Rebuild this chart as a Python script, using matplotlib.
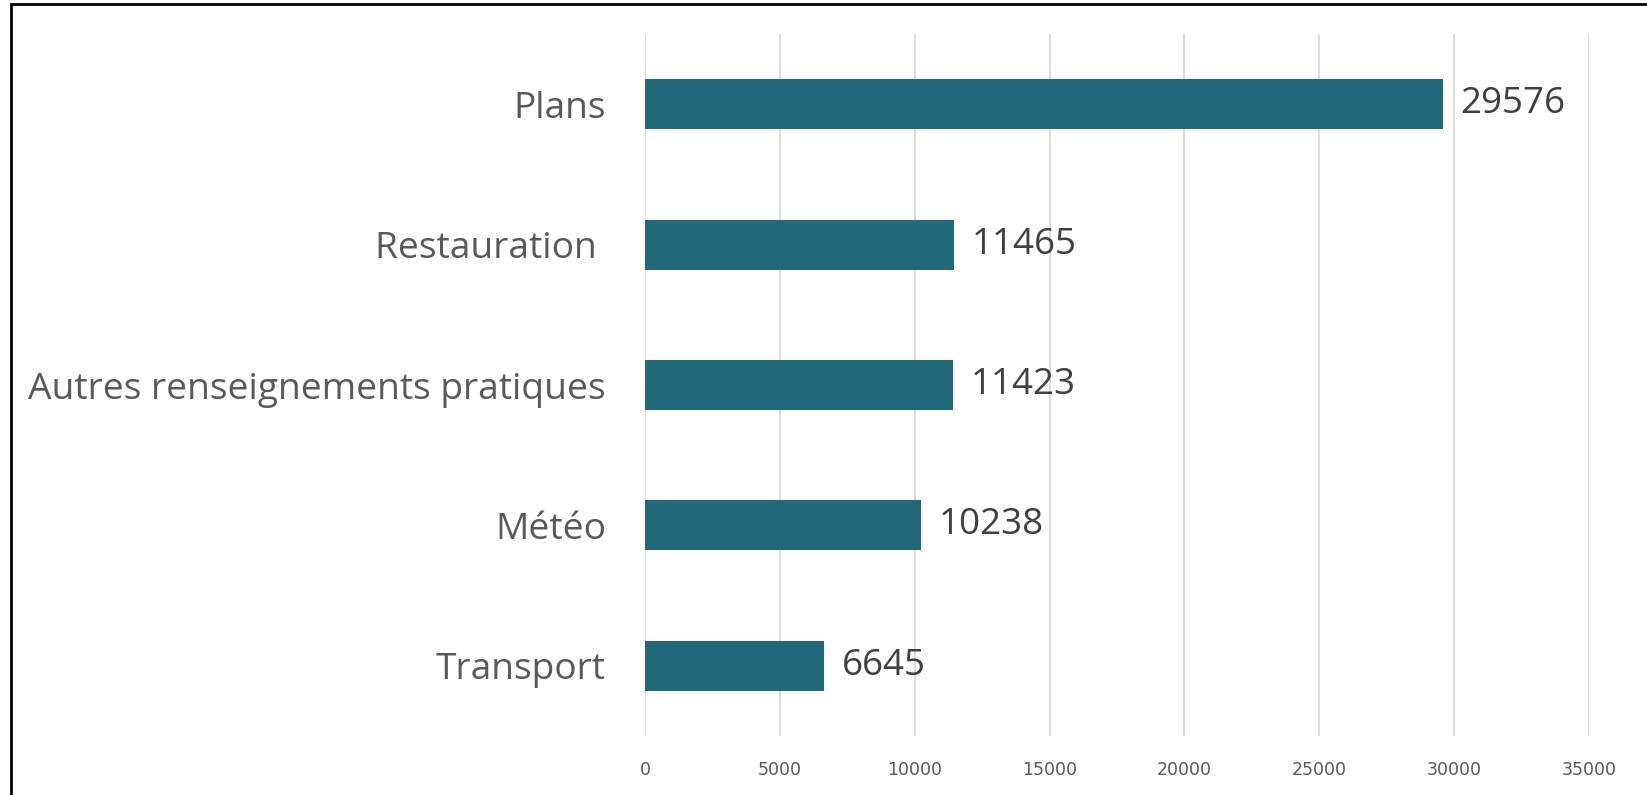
import matplotlib.pyplot as plt
from matplotlib.patches import Rectangle

# ----------------------------
# Data
# ----------------------------
categories = ["Transport", "Météo", "Autres renseignements pratiques", "Restauration ", "Plans"]
values = [6645, 10238, 11423, 11465, 29576]
xticks = [0, 5000, 10000, 15000, 20000, 25000, 30000, 35000]

bar_color = "#216878"
label_font = ["Open Sans", "DejaVu Sans"]

# ----------------------------
# Plot
# ----------------------------
fig = plt.figure(figsize=(16.47, 7.95), dpi=100)
ax = fig.add_axes([0.3916, 0.0742, 0.5732, 0.8830])

ypos = range(len(categories))
ax.barh(ypos, values, height=0.355, color=bar_color, zorder=3)

for y, v in zip(ypos, values):
    ax.annotate(str(v), (v, y), xytext=(12.5, 0), textcoords="offset points",
                va="center", ha="left", fontsize=26.5, color="#404040",
                family=label_font)

ax.set_xlim(0, 35000)
ax.set_ylim(-0.5, len(categories) - 0.5)
ax.set_xticks(xticks)
ax.set_xticklabels([str(t) for t in xticks], family=["Liberation Sans Narrow", "DejaVu Sans"],
                   fontsize=12.5, color="#595959")
ax.set_yticks(list(ypos))
ax.set_yticklabels(categories, family=label_font, fontsize=26.7, color="#595959")

ax.tick_params(axis="x", length=0, pad=18)
ax.tick_params(axis="y", length=0, pad=28)
ax.grid(axis="x", color="#d9d9d9", linewidth=1.3, zorder=0)
for s in ax.spines.values():
    s.set_visible(False)

# outer frame
fig.patches.append(Rectangle((11 / 1647, -0.05), 1.1, 1.05 - 4 / 795,
                             transform=fig.transFigure, fill=False,
                             edgecolor="black", linewidth=2))

fig.savefig("out.png", dpi=100)
